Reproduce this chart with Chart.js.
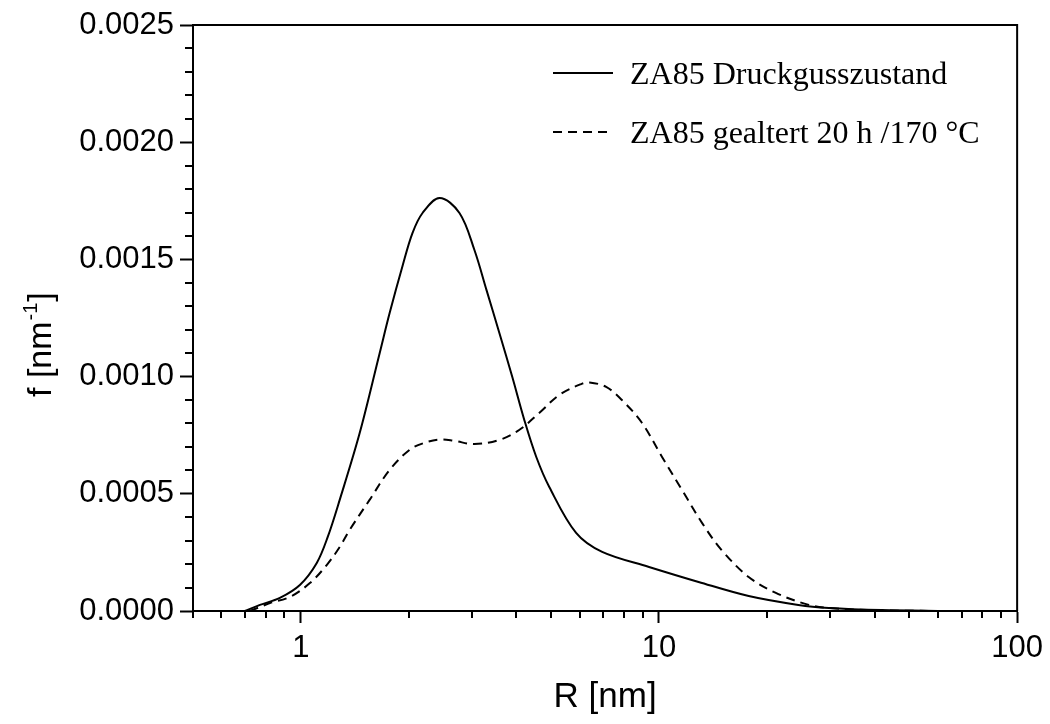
<!DOCTYPE html>
<html>
<head>
<meta charset="utf-8">
<script src="https://cdn.jsdelivr.net/npm/chart.js@4"></script>
<style>
  html, body { margin: 0; padding: 0; background: #fff; }
  #wrap { width: 1050px; height: 724px; }
</style>
</head>
<body>
<div id="wrap"><canvas id="size-chart"></canvas></div>
<script>
// R [nm] and f [nm^-1]
const castR = [0.698, 0.769, 0.874, 0.994, 1.108, 1.189, 1.284, 1.46, 1.66, 1.77, 1.923, 2.051, 2.187, 2.44, 2.773, 3.053, 3.30, 3.584, 3.895, 4.207, 4.544, 4.94, 5.87, 6.94, 9.38, 12.9, 17.8, 24.5, 29.8, 41.8, 64];
const castF = [0, 0.000026, 0.000056, 0.000111, 0.000205, 0.000316, 0.000474, 0.000759, 0.0011, 0.001271, 0.001472, 0.001613, 0.001698, 0.001762, 0.001698, 0.00154, 0.001369, 0.001186, 0.000998, 0.000815, 0.000657, 0.000529, 0.000333, 0.000252, 0.000188, 0.000124, 0.000064, 0.000026, 0.000013, 0.000004, 0];

const agedR = [0.72, 0.769, 0.82, 0.932, 1.06, 1.181, 1.284, 1.369, 1.556, 1.77, 2.01, 2.2, 2.44, 2.68, 3.053, 3.584, 4.07, 4.63, 5.27, 6.06, 6.4, 7.12, 7.88, 8.97, 10.2, 11.6, 13.2, 14.96, 17.8, 21.2, 26.2, 29.8, 40, 60];
const agedF = [0, 0.000017, 0.000034, 0.00006, 0.000119, 0.000196, 0.000273, 0.000346, 0.000474, 0.000602, 0.000687, 0.000716, 0.000732, 0.000726, 0.000712, 0.00073, 0.000772, 0.000845, 0.000922, 0.000968, 0.000975, 0.000956, 0.0009, 0.000802, 0.000657, 0.000516, 0.000375, 0.00026, 0.000145, 0.000077, 0.000026, 0.000013, 0.000003, 0];

const xMajor = [1, 10, 100];
const xMinor = [0.5, 0.6, 0.7, 0.8, 0.9, 2, 3, 4, 5, 6, 7, 8, 9, 20, 30, 40, 50, 60, 70, 80, 90];
const yMinor = [0.0001, 0.0002, 0.0003, 0.0004, 0.0006, 0.0007, 0.0008, 0.0009, 0.0011, 0.0012, 0.0013, 0.0014, 0.0016, 0.0017, 0.0018, 0.0019, 0.0021, 0.0022, 0.0023, 0.0024];

const labels = ['ZA85 Druckgusszustand', 'ZA85 gealtert 20 h /170 °C'];

const sans = "Arial, 'Liberation Sans', sans-serif";
const serif = "'Times New Roman', 'Liberation Serif', serif";

function pts(xs, ys) {
    return xs.map((x, i) => ({ x: x, y: ys[i] }));
}

// box around the plot, minor ticks, y title with superscript, legend
const extras = {
    id: 'extras',
    afterDraw(chart) {
        const ctx = chart.ctx;
        const a = chart.chartArea;
        const xs = chart.scales.x, ys = chart.scales.y;
        ctx.save();
        ctx.strokeStyle = '#000';
        ctx.lineWidth = 2;
        ctx.beginPath();
        ctx.moveTo(a.left, a.top);
        ctx.lineTo(a.right, a.top);
        ctx.lineTo(a.right, a.bottom);
        ctx.stroke();

        ctx.beginPath();
        xMinor.forEach(v => {
            const px = Math.round(xs.getPixelForValue(v));
            ctx.moveTo(px, a.bottom);
            ctx.lineTo(px, a.bottom + 7);
        });
        yMinor.forEach(v => {
            const py = Math.round(ys.getPixelForValue(v));
            ctx.moveTo(a.left, py);
            ctx.lineTo(a.left - 8, py);
        });
        ctx.stroke();

        // y axis title
        ctx.fillStyle = '#000';
        ctx.textBaseline = 'alphabetic';
        ctx.save();
        ctx.translate(51, 397);
        ctx.rotate(-Math.PI / 2);
        ctx.font = "34px " + sans;
        let t = 'f [nm';
        ctx.fillText(t, 0, 0);
        let w = ctx.measureText(t).width;
        ctx.font = "20px " + sans;
        ctx.fillText('-1', w + 1, -14);
        w += ctx.measureText('-1').width + 2;
        ctx.font = "34px " + sans;
        ctx.fillText(']', w, 0);
        ctx.restore();

        // legend
        ctx.font = "32px " + serif;
        chart.data.datasets.forEach((ds, i) => {
            const ly = 73 + i * 59;
            ctx.setLineDash(ds.borderDash || []);
            ctx.lineWidth = 2;
            ctx.beginPath();
            ctx.moveTo(553, ly);
            ctx.lineTo(613, ly);
            ctx.stroke();
            ctx.setLineDash([]);
            ctx.fillText(ds.label, 630, ly + 11);
        });
        ctx.restore();
    }
};

new Chart(document.getElementById('size-chart'), {
    type: 'line',
    data: {
        datasets: [{
            label: labels[0],
            data: pts(castR, castF),
            borderColor: '#000',
            borderWidth: 2,
            pointRadius: 0,
            tension: 0.35,
            fill: false
        }, {
            label: labels[1],
            data: pts(agedR, agedF),
            borderColor: '#000',
            borderWidth: 2,
            borderDash: [9, 6],
            pointRadius: 0,
            tension: 0.35,
            fill: false
        }]
    },
    options: {
        responsive: true,
        maintainAspectRatio: false,
        animation: false,
        layout: {
            padding: { top: 25, right: 32, left: 0, bottom: 0 }
        },
        plugins: {
            legend: { display: false },
            tooltip: { enabled: false }
        },
        scales: {
            x: {
                type: 'logarithmic',
                min: 0.5,
                max: 100,
                border: { color: '#000', width: 2 },
                grid: { drawOnChartArea: false, color: '#000', tickLength: 12, tickWidth: 2 },
                ticks: {
                    color: '#000',
                    font: { family: sans, size: 31 },
                    padding: 7,
                    autoSkip: false,
                    maxRotation: 0,
                    callback: v => String(v)
                },
                afterBuildTicks: s => { s.ticks = xMajor.map(v => ({ value: v })); },
                afterFit: s => { s.height = 113; },
                title: {
                    display: true,
                    text: 'R [nm]',
                    color: '#000',
                    font: { family: sans, size: 35 },
                    padding: { top: 0, bottom: 6 }
                }
            },
            y: {
                min: 0,
                max: 0.0025,
                border: { color: '#000', width: 2 },
                grid: { drawOnChartArea: false, color: '#000', tickLength: 13, tickWidth: 2 },
                ticks: {
                    color: '#000',
                    font: { family: sans, size: 31 },
                    padding: 6,
                    stepSize: 0.0005,
                    callback: v => Number(v).toFixed(4)
                },
                afterFit: s => { s.width = 193; }
            }
        }
    },
    plugins: [extras]
});
</script>
</body>
</html>
